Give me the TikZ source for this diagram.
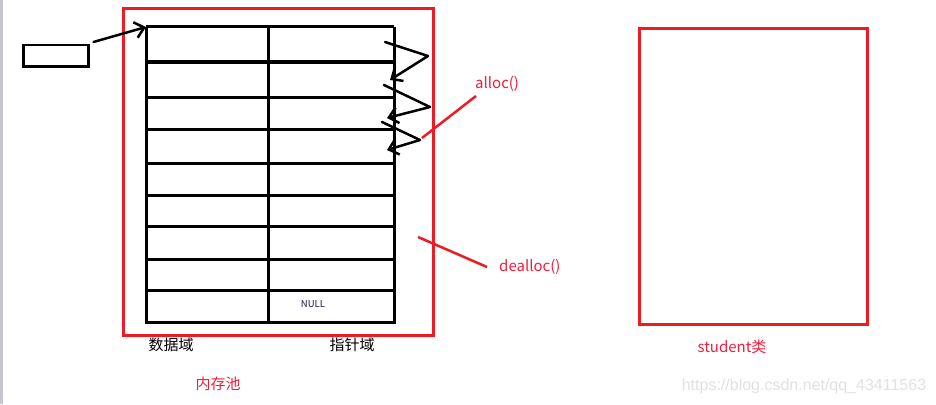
\documentclass[tikz,border=0pt]{standalone}
\usepackage{fontspec}
\newfontfamily\cjk{Noto Sans CJK SC}
\usetikzlibrary{arrows.meta}
\definecolor{paintred}{RGB}{237,28,36}
\definecolor{textred}{RGB}{240,30,60}
\definecolor{navy}{RGB}{20,20,70}
\definecolor{wm}{RGB}{225,225,225}
\tikzset{
  redbox/.style={draw=paintred, line width=3pt},
  grid/.style={draw=black, line width=3pt},
  ink/.style={draw=black, line width=2.5pt, line cap=round, line join=round},
  redink/.style={draw=paintred, line width=2.5pt},
  lbl/.style={font=\cjk\fontsize{15}{17}\selectfont, inner sep=0pt},
  redlbl/.style={lbl, text=textred},
  barb/.style={-{Straight Barb[length=9pt,width=16pt,line width=2.5pt]}},
}
\begin{document}
\begin{tikzpicture}[x=1pt,y=-1pt]
\useasboundingbox (0,0) rectangle (936,404);
\fill[blue!15!gray!40] (0,0) rectangle (3,404);
% memory pool
\node[redbox, minimum width=310pt, minimum height=327pt, anchor=north west, inner sep=0pt] (pool) at (122,7) {};
% table
\coordinate (tl) at (146,27);
\coordinate (br) at (394,322);
\foreach \y in {27,62,97,129,163,195,226,259,290,322}{
  \draw[grid] (146,\y) -- (394,\y);
}
\draw[grid] (146,27) -- (146,324);
\draw[grid] (268,27) -- (268,324);
\draw[grid] (394,27) -- (394,324);
\node[font=\cjk\fontsize{9.5}{10}\selectfont, text=navy, inner sep=0pt] (null) at (313,304) {NULL};
% head pointer
\node[draw=black, line width=2.5pt, minimum width=65pt, minimum height=21pt, anchor=north west, inner sep=0pt] (head) at (22,44) {};
\draw[ink, barb] (head.north east) ++(4,-2) coordinate (hs) -- (tl);
% zigzag links
\draw[ink, barb] (385,42) -- (428,56) -- (390,80);
\draw[ink, barb] (384,85) -- (430,107) -- (387,118);
\draw[ink, barb] (382,122) -- (420,140) -- (387,150);
% alloc / dealloc
\node[redlbl, anchor=west] (alloc) at (475,84) {alloc()};
\node[redlbl, anchor=west] (dealloc) at (499,267) {dealloc()};
\draw[redink] (422,138) -- (476,96);
\draw[redink] (418,237) -- (487,267);
% student
\node[redbox, minimum width=228pt, minimum height=296pt, anchor=north west, inner sep=0pt] (student) at (638,27) {};
\node[redlbl] (slbl) at (732,347) {student类};
% labels
\node[lbl] (data) at (171,345) {数据域};
\node[lbl] (ptr) at (352,345) {指针域};
\node[redlbl] (pl) at (218,384) {内存池};
\node[font=\fontspec{Liberation Sans}\fontsize{16}{18}\selectfont, text=wm, inner sep=0pt] (wmk) at (804,386) {https://blog.csdn.net/qq\_43411563};
\end{tikzpicture}
\end{document}
